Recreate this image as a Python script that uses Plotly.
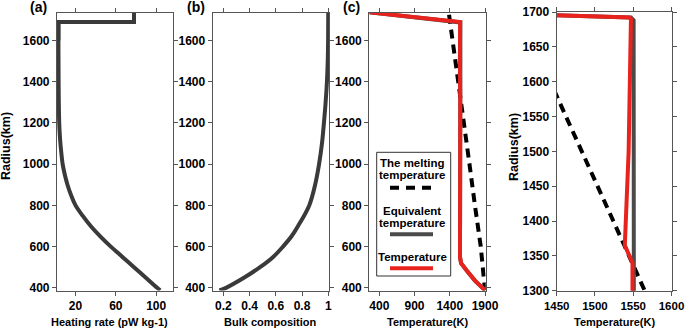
import plotly.graph_objects as go

# ---------------- data ----------------
# (a) heating rate vs radius
heat_radius = [1737, 1690, 1690, 1600, 1500, 1400, 1300, 1200, 1150, 1100, 1050, 1000,
               950, 900, 850, 800, 750, 700, 650, 600, 550, 500, 450, 400, 388]
heat_rate = [78, 78, 3, 3, 3.1, 3.2, 3.4, 3.8, 4.3, 5.0, 6.0, 7.2,
             9.3, 12, 15.5, 20, 27, 35, 44.5, 55, 66.5, 78, 89.5, 101, 104]

# (b) bulk composition vs radius
bulk_radius = [388, 400, 450, 500, 550, 600, 650, 700, 800, 900, 1000, 1100, 1200,
               1300, 1400, 1500, 1600, 1737]
bulk_comp = [0.17, 0.22, 0.36, 0.48, 0.58, 0.655, 0.72, 0.77, 0.855, 0.90, 0.93, 0.952, 0.967,
             0.98, 0.99, 0.996, 0.999, 1.0]

# (c)/(d) temperatures vs radius
melt_radius = [1725, 1600, 1580, 1400, 1300, 1200, 1000, 800, 600, 388]
melt_temp = [1390, 1442, 1450, 1524, 1565, 1601, 1680, 1757, 1840, 1900]

equiv_radius = [1737, 1692, 1688, 1500, 1340, 1300, 1000, 700, 550, 520, 500, 484, 435, 395, 388]
equiv_temp = [260, 1547, 1550.5, 1550.5, 1550.5, 1550, 1551, 1552, 1545, 1560, 1600, 1640, 1757, 1885, 1900]

temp_radius = [1737, 1692, 1690, 1500, 1365, 1340, 1300, 1000, 700, 550, 520, 500, 484, 435, 395, 388]
temp_temp = [260, 1545, 1547, 1544, 1539, 1549, 1549, 1548, 1547, 1545, 1560, 1600, 1640, 1757, 1885, 1900]

# tick labels
y_ticks_main = [400, 600, 800, 1000, 1200, 1400, 1600]
y_ticks_zoom = [1300, 1350, 1400, 1450, 1500, 1550, 1600, 1650, 1700]
x_ticks_a = [20, 60, 100]
x_ticks_b = [0.2, 0.4, 0.6, 0.8, 1]
x_ticks_b_text = ["0.2", "0.4", "0.6", "0.8", "1"]
x_ticks_c = [400, 900, 1400, 1900]
x_ticks_d = [1450, 1500, 1550, 1600]

# ---------------- layout helpers ----------------
W, H = 685, 328


def px(x):
    return x / W


def py(y):
    return 1 - y / H


FONT = "Liberation Sans, Arial, sans-serif"
DARK = "#3a3a3a"
GREY = "#4a4a4a"
RED = "#e8231d"
AXC = "#555555"

fig = go.Figure()

# (a): surface step drawn straight, interior profile drawn smooth
fig.add_trace(go.Scatter(x=heat_rate[:4], y=heat_radius[:4], xaxis="x", yaxis="y", mode="lines",
                         line=dict(color=DARK, width=4), showlegend=False))
fig.add_trace(go.Scatter(x=heat_rate[2:], y=heat_radius[2:], xaxis="x", yaxis="y", mode="lines",
                         line=dict(color=DARK, width=4, shape="spline", smoothing=1), showlegend=False))
# (b)
fig.add_trace(go.Scatter(x=bulk_comp, y=bulk_radius, xaxis="x2", yaxis="y2", mode="lines",
                         line=dict(color=DARK, width=4, shape="spline"), showlegend=False))
# (c) and (d)
for xa, ya in (("x3", "y3"), ("x4", "y4")):
    fig.add_trace(go.Scatter(x=melt_temp, y=melt_radius, xaxis=xa, yaxis=ya, mode="lines",
                             line=dict(color="black", width=4, dash="9px,6px"), showlegend=False))
    fig.add_trace(go.Scatter(x=equiv_temp, y=equiv_radius, xaxis=xa, yaxis=ya, mode="lines",
                             line=dict(color=GREY, width=4), showlegend=False))
    fig.add_trace(go.Scatter(x=temp_temp, y=temp_radius, xaxis=xa, yaxis=ya, mode="lines",
                             line=dict(color=RED, width=4), showlegend=False))


def axis_style(size=12):
    return dict(showline=True, linecolor=AXC, linewidth=1.2, mirror="ticks", ticks="outside",
                ticklen=4, tickwidth=1, tickcolor=AXC, showgrid=False, zeroline=False,
                automargin=False, ticklabeloverflow="allow",
                tickfont=dict(family=FONT, size=size, color="black", weight="bold"))


common = axis_style()

ydom = [py(290.5), py(12.7)]
fig.update_layout(
    width=W, height=H, margin=dict(l=0, r=0, t=0, b=0),
    paper_bgcolor="white", plot_bgcolor="white",
    xaxis=dict(domain=[px(57), px(173)], range=[1.6, 116.7], tickvals=x_ticks_a, anchor="y", **common),
    yaxis=dict(domain=ydom, range=[387, 1735], tickvals=y_ticks_main, anchor="x", **common),
    xaxis2=dict(domain=[px(212.7), px(329.3)], range=[0.119, 1.008], tickvals=x_ticks_b,
                ticktext=x_ticks_b_text, anchor="y2", **common),
    yaxis2=dict(domain=ydom, range=[387, 1735], tickvals=y_ticks_main, anchor="x2", **common),
    xaxis3=dict(domain=[px(369.3), px(485.7)], range=[258, 1910], tickvals=x_ticks_c, anchor="y3", **common),
    yaxis3=dict(domain=ydom, range=[387, 1735], tickvals=y_ticks_main, anchor="x3", **common),
    xaxis4=dict(domain=[px(556.7), px(671.5)], range=[1450, 1600], tickvals=x_ticks_d, anchor="y4",
                **axis_style(11.5)),
    yaxis4=dict(domain=[py(290.7), py(12)], range=[1300, 1700], tickvals=y_ticks_zoom, anchor="x4", **common),
)

ann = []


def text(t, x, y, size=11, angle=0):
    ann.append(dict(text=t, x=px(x), y=py(y), xref="paper", yref="paper", showarrow=False,
                    xanchor="center", yanchor="middle", textangle=angle,
                    font=dict(family=FONT, size=size, color="black", weight="bold")))


# panel labels
text("(a)", 38, 7, 14)
text("(b)", 195.5, 7, 14)
text("(c)", 351, 7, 14)
# axis titles
text("Heating rate (pW kg-1)", 109, 321.5, 11)
text("Bulk composition", 270, 321.5, 11)
text("Temperature(K)", 427.7, 321.5, 11)
text("Temperature(K)", 614, 321.5, 11)
text("Radius(km)", 6, 146, 12.5, -90)
text("Radius(km)", 514, 147, 12.5, -90)
# legend text
text("The melting", 412, 163.3, 11.5)
text("temperature", 412, 175, 11.5)
text("Equivalent", 412, 211, 11.5)
text("temperature", 412, 222.7, 11.5)
text("Temperature", 412, 257.3, 11.5)

shapes = [
    dict(type="rect", xref="paper", yref="paper", x0=px(376.7), x1=px(450.7), y0=py(276), y1=py(152.3),
         line=dict(color="#333333", width=1), fillcolor="white", layer="below"),
    dict(type="line", xref="paper", yref="paper", x0=px(390), x1=px(433), y0=py(187.7), y1=py(187.7),
         line=dict(color="black", width=4, dash="9px,7px")),
    dict(type="line", xref="paper", yref="paper", x0=px(390), x1=px(433), y0=py(234.3), y1=py(234.3),
         line=dict(color=GREY, width=4)),
    dict(type="line", xref="paper", yref="paper", x0=px(390), x1=px(433), y0=py(268.3), y1=py(268.3),
         line=dict(color=RED, width=4)),
]
fig.update_layout(annotations=ann, shapes=shapes)

fig.write_html("out.html", config={"displayModeBar": False},
               post_script="document.body.style.margin='0';document.body.style.overflow='hidden';")
